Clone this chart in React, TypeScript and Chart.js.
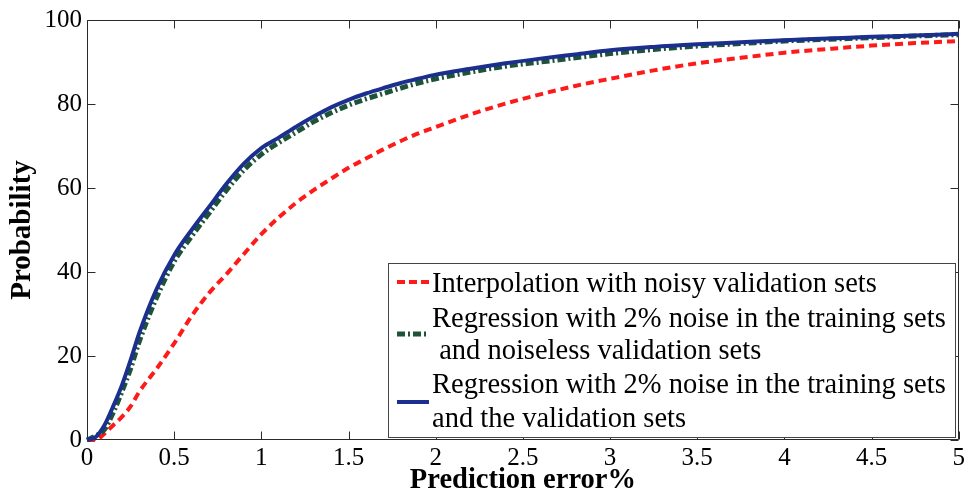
import React, { useEffect, useRef } from "react";
import { Chart, registerables } from "chart.js";

Chart.register(...registerables);

// Prediction error (%) at which each cumulative probability is sampled
const errorPct = [
  0, 0.05, 0.1, 0.15, 0.2, 0.25, 0.3, 0.4, 0.5, 0.6, 0.7, 0.8, 0.9, 1.0, 1.1, 1.2, 1.3, 1.4, 1.5,
  1.6, 1.7, 1.8, 1.9, 2.0, 2.2, 2.4, 2.6, 2.8, 3.0, 3.25, 3.5, 3.75, 4.0, 4.25, 4.5, 4.75, 5.0,
];

// Cumulative probability (%) for each method
const interpolationNoisy = [
  0, 0, 1.5, 3.5, 5.5, 8, 11.5, 17, 23, 29.5, 35, 39.5, 44.3, 49, 53, 56.5, 59.5, 62.2, 64.8,
  67, 69.2, 71.2, 73, 74.5, 77.5, 80.1, 82.3, 84.3, 86, 88, 89.7, 91, 92.2, 93.1, 93.9, 94.5, 95,
];
const regressionNoiseless = [
  0, 1, 2.5, 6.5, 11.5, 17, 23.5, 34, 42.5, 48.5, 54, 59.5, 64.3, 68, 70.8, 73.3, 75.8, 77.9, 79.7,
  81.2, 82.5, 83.8, 85, 86, 87.6, 89, 90, 91, 92, 93, 93.8, 94.4, 95, 95.4, 95.8, 96.2, 96.5,
];
const regressionNoisy = [
  0, 0.7, 3.5, 8, 13, 19, 25.5, 36, 44, 50, 55.5, 61, 65.8, 69.5, 72, 74.6, 77, 79.2, 81,
  82.5, 83.8, 85, 86, 87, 88.4, 89.7, 90.8, 91.8, 92.8, 93.6, 94.2, 94.7, 95.2, 95.6, 96, 96.3, 96.7,
];

const xTicks = [0, 0.5, 1, 1.5, 2, 2.5, 3, 3.5, 4, 4.5, 5];
const yTicks = [0, 20, 40, 60, 80, 100];

const legendRows = [
  "Interpolation with noisy validation sets",
  "Regression with 2% noise in the training sets",
  " and noiseless validation sets",
  "Regression with 2% noise in the training sets",
  "and the validation sets",
];

const SERIF = "'Times New Roman', 'Liberation Serif', serif";
const RED = "#ff1a1a";
const GREEN = "#1d5337";
const BLUE = "#1b2f8e";

const toPoints = (ys: number[]) => errorPct.map((x, i) => ({ x, y: ys[i] }));

// Box around the plot with inward tick marks on all four sides
const framePlugin = {
  id: "frame",
  beforeDatasetsDraw(chart: any) {
    const { ctx, chartArea, scales } = chart;
    const { left, right, top, bottom } = chartArea;
    const L = Math.round(left) + 0.5;
    const R = Math.round(right) - 0.5;
    const T = Math.round(top) + 0.5;
    const B = Math.round(bottom) - 0.5;
    const len = 8;
    ctx.save();
    ctx.strokeStyle = "#2a2a2a";
    ctx.lineWidth = 1;
    ctx.beginPath();
    ctx.rect(L, T, R - L, B - T);
    xTicks.forEach((v) => {
      const px = Math.round(scales.x.getPixelForValue(v)) + 0.5;
      ctx.moveTo(px, B);
      ctx.lineTo(px, B - len);
      ctx.moveTo(px, T);
      ctx.lineTo(px, T + len);
    });
    yTicks.forEach((v) => {
      const py = Math.round(scales.y.getPixelForValue(v)) + 0.5;
      ctx.moveTo(L, py);
      ctx.lineTo(L + len, py);
      ctx.moveTo(R, py);
      ctx.lineTo(R - len, py);
    });
    ctx.stroke();
    ctx.restore();
  },
};

// Boxed legend in the lower right of the plot, with wrapped entries
const legendPlugin = {
  id: "boxLegend",
  afterDatasetsDraw(chart: any) {
    const { ctx } = chart;
    const boxL = 388.5;
    const boxT = 263.5;
    const boxR = 955.5;
    const boxB = 437.5;
    ctx.save();
    ctx.fillStyle = "#ffffff";
    ctx.fillRect(boxL, boxT, boxR - boxL, boxB - boxT);
    ctx.strokeStyle = "#444444";
    ctx.lineWidth = 1;
    ctx.strokeRect(boxL, boxT, boxR - boxL, boxB - boxT);

    const sampleL = 397;
    const sampleR = 429;
    const drawSample = (y: number, color: string, width: number, dash: number[]) => {
      ctx.beginPath();
      ctx.strokeStyle = color;
      ctx.lineWidth = width;
      ctx.setLineDash(dash);
      ctx.moveTo(sampleL, y);
      ctx.lineTo(sampleR, y);
      ctx.stroke();
    };
    drawSample(282, RED, 4, [8, 4]);
    drawSample(334, GREEN, 5, [8, 3, 2, 3]);
    drawSample(402, BLUE, 4, []);
    ctx.setLineDash([]);

    ctx.fillStyle = "#000000";
    ctx.font = `28.5px ${SERIF}`;
    ctx.textAlign = "left";
    ctx.textBaseline = "alphabetic";
    const baselines = [292, 327, 359, 393, 427];
    legendRows.forEach((t, i) => ctx.fillText(t, 432, baselines[i]));
    ctx.restore();
  },
};

export default function App() {
  const canvasRef = useRef<HTMLCanvasElement | null>(null);

  useEffect(() => {
    document.body.style.margin = "0";
    const canvas = canvasRef.current;
    if (!canvas) return;
    const chart = new Chart(canvas, {
      type: "line",
      data: {
        datasets: [
          {
            label: legendRows[0],
            data: toPoints(interpolationNoisy),
            borderColor: RED,
            borderWidth: 4,
            borderDash: [8, 5],
            pointRadius: 0,
            cubicInterpolationMode: "monotone",
            clip: false,
            order: 2,
          },
          {
            label: legendRows[1] + legendRows[2],
            data: toPoints(regressionNoiseless),
            borderColor: GREEN,
            borderWidth: 5,
            borderDash: [8, 3, 2, 3],
            pointRadius: 0,
            cubicInterpolationMode: "monotone",
            clip: false,
            order: 1,
          },
          {
            label: legendRows[3] + " " + legendRows[4],
            data: toPoints(regressionNoisy),
            borderColor: BLUE,
            borderWidth: 4,
            pointRadius: 0,
            cubicInterpolationMode: "monotone",
            clip: false,
            order: 0,
          },
        ],
      },
      options: {
        responsive: false,
        animation: false,
        layout: { padding: { top: 18, right: 7, left: 0, bottom: 0 } },
        plugins: {
          legend: { display: false },
          tooltip: { enabled: false },
        },
        scales: {
          x: {
            type: "linear",
            min: 0,
            max: 5,
            afterFit: (s: any) => {
              s.height = 61;
            },
            afterBuildTicks: (s: any) => {
              s.ticks = xTicks.map((v) => ({ value: v }));
            },
            grid: { display: false, drawTicks: false },
            border: { display: false },
            ticks: {
              color: "#000000",
              padding: 3,
              maxRotation: 0,
              autoSkip: false,
              font: { family: SERIF, size: 25 },
              callback: (v: any) => String(v),
            },
            title: {
              display: true,
              text: "Prediction error%",
              color: "#000000",
              padding: { top: 0, bottom: 3 },
              font: { family: SERIF, size: 28.5, weight: "bold" },
            },
          },
          y: {
            type: "linear",
            min: 0,
            max: 100,
            afterFit: (s: any) => {
              s.width = 87;
            },
            afterBuildTicks: (s: any) => {
              s.ticks = yTicks.map((v) => ({ value: v }));
            },
            grid: { display: false, drawTicks: false },
            border: { display: false },
            ticks: {
              color: "#000000",
              padding: 5,
              autoSkip: false,
              font: { family: SERIF, size: 25 },
              callback: (v: any) => String(v),
            },
            title: {
              display: true,
              text: "Probability",
              color: "#000000",
              padding: { top: 5, bottom: 0 },
              font: { family: SERIF, size: 29, weight: "bold" },
            },
          },
        },
      },
      plugins: [framePlugin, legendPlugin],
    } as any);
    return () => chart.destroy();
  }, []);

  return (
    <div style={{ width: 968, height: 501 }}>
      <canvas ref={canvasRef} width={968} height={501} />
    </div>
  );
}
